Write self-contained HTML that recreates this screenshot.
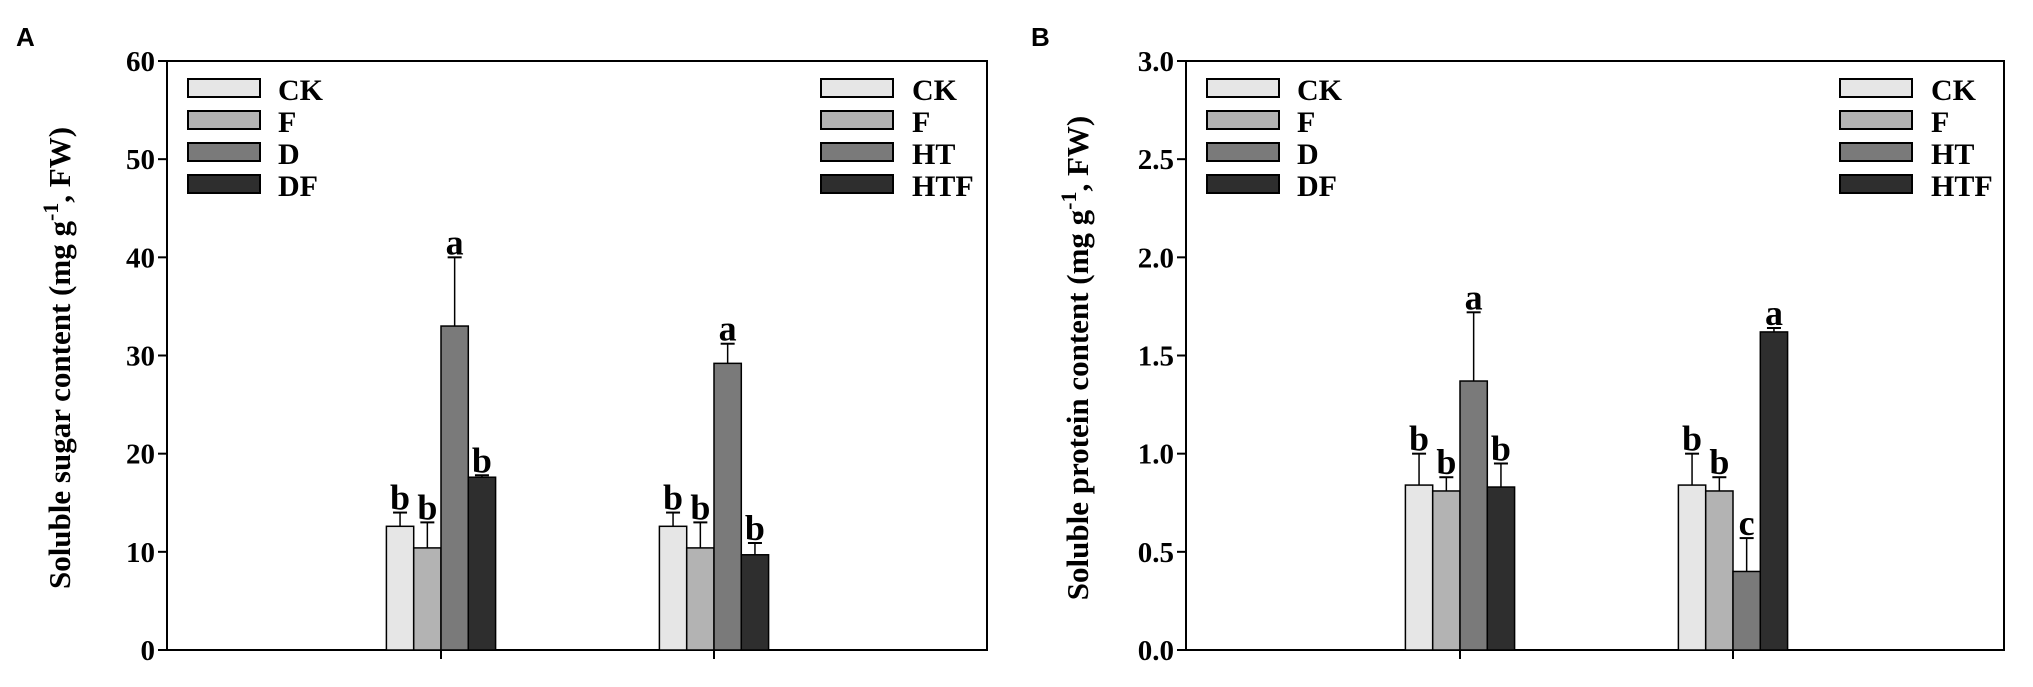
<!DOCTYPE html>
<html><head><meta charset="utf-8"><style>
html,body{margin:0;padding:0;background:#fff;}
svg{display:block;font-family:"Liberation Serif",serif;}
</style></head><body>
<svg id="chart" width="2033" height="687" viewBox="0 0 2033 687" xmlns="http://www.w3.org/2000/svg"></svg>
<script>
const groupsA = [[12.6,10.4,33.0,17.6],[12.6,10.4,29.2,9.7]];
const errA = [[14.0,13.0,40.0,17.8],[14.0,13.0,31.2,10.9]];
const lettersA = [["b","b","a","b"],["b","b","a","b"]];
const ticksA = [0,10,20,30,40,50,60];
const tickLabelsA = ["0","10","20","30","40","50","60"];
const groupsB = [[0.84,0.81,1.37,0.83],[0.84,0.81,0.40,1.62]];
const errB = [[1.0,0.88,1.72,0.95],[1.0,0.88,0.57,1.64]];
const lettersB = [["b","b","a","b"],["b","b","c","a"]];
const ticksB = [0,0.5,1.0,1.5,2.0,2.5,3.0];
const tickLabelsB = ["0.0","0.5","1.0","1.5","2.0","2.5","3.0"];
const colors = ["#e6e6e6","#b3b3b3","#7a7a7a","#2e2e2e"];
const legendLeft = ["CK","F","D","DF"];
const legendRight = ["CK","F","HT","HTF"];

const svg = document.getElementById('chart');
const NS = "http://www.w3.org/2000/svg";
function mk(tag, attrs, parent){
  const e = document.createElementNS(NS, tag);
  for (const k in attrs) e.setAttribute(k, attrs[k]);
  (parent||svg).appendChild(e);
  return e;
}
function panel(opt){
  const g = mk('g', {});
  
  
  const L=opt.x0, R=opt.x1, T=61, B=650, max=opt.max;
  const y = v => B - (v/max)*(B-T);
  const pl = mk('text',{x:opt.letterX,y:46,'font-family':'Liberation Sans, sans-serif','font-weight':'bold','font-size':26},g);
  pl.textContent = opt.letter;
  
  
  const fr = mk('rect',{x:L,y:T,width:R-L,height:B-T,fill:'none',stroke:'#000','stroke-width':2},g);
  
  
  opt.ticks.forEach((t,i)=>{
    const ty = y(t);
    const tl = mk('line',{x1:L-9,x2:L,y1:ty,y2:ty,stroke:'#000','stroke-width':2},g);
    
    
    const tx = mk('text',{x:L-12,y:ty+10,'text-anchor':'end','font-weight':'bold','font-size':29},g);
    tx.textContent = opt.tickLabels[i];
    
    
  });
  const yt = mk('text',{x:0,y:0,'text-anchor':'middle','font-weight':'bold','font-size':31,transform:`translate(${opt.titleX},${358}) rotate(-90)`},g);
  yt.innerHTML = opt.title + ' (mg g<tspan dy="-12" font-size="22">-1</tspan><tspan dy="12">, FW)</tspan>';
  
  
  const centers = [L+274, L+547];
  const bw = 27.3;
  opt.groups.forEach((vals,gi)=>{
    const c = centers[gi];
    const xt = mk('line',{x1:c,x2:c,y1:B,y2:B+9,stroke:'#000','stroke-width':2},g);
    
    
    vals.forEach((v,bi)=>{
      const bx = c - 2*bw + bi*bw;
      const r = mk('rect',{x:bx,y:y(v),width:bw,height:B-y(v),fill:colors[bi],stroke:'#000','stroke-width':1.5},g);
      
      
      const cx = bx + bw/2;
      const ey = y(opt.err[gi][bi]);
      const el = mk('line',{x1:cx,x2:cx,y1:y(v),y2:ey,stroke:'#000','stroke-width':1.5},g);
      
      
      const ec = mk('line',{x1:cx-7,x2:cx+7,y1:ey,y2:ey,stroke:'#000','stroke-width':2},g);
      
      
      const lt = mk('text',{x:cx,y:ey-3,'text-anchor':'middle','font-weight':'bold','font-size':36},g);
      lt.textContent = opt.letters[gi][bi];
      
      
    });
  });
  [[opt.legL, L+21, L+111],[opt.legR, L+654, L+745]].forEach(([labels,sx,tx])=>{
    labels.forEach((lab,i)=>{
      const yy = 79 + i*32;
      const s = mk('rect',{x:sx,y:yy,width:72,height:18,fill:colors[i],stroke:'#000','stroke-width':2},g);
      
      
      const t = mk('text',{x:tx,y:yy+21,'font-weight':'bold','font-size':30},g);
      t.textContent = lab;
      
      
    });
  });
}
panel({name:'panel-a',letter:'A',letterX:16,x0:167,x1:987,max:60,ticks:ticksA,tickLabels:tickLabelsA,
  title:'Soluble sugar content',titleX:70,groups:groupsA,err:errA,letters:lettersA,legL:legendLeft,legR:legendRight});
panel({name:'panel-b',letter:'B',letterX:1031,x0:1186,x1:2004,max:3,ticks:ticksB,tickLabels:tickLabelsB,
  title:'Soluble protein content',titleX:1088,groups:groupsB,err:errB,letters:lettersB,legL:legendLeft,legR:legendRight});
</script>
</body></html>
